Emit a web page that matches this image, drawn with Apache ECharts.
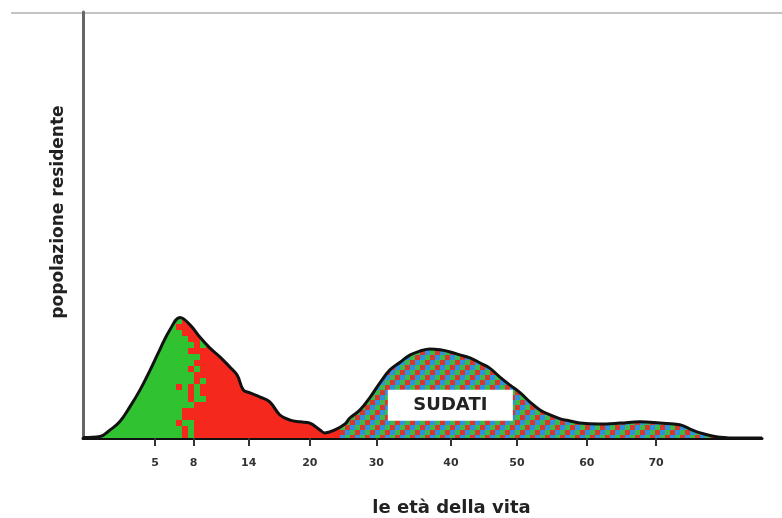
<!DOCTYPE html>
<html>
<head>
<meta charset="utf-8">
<script src="https://cdn.jsdelivr.net/npm/echarts@6/dist/echarts.min.js"></script>
<style>
  html, body { margin: 0; padding: 0; background: #ffffff; }
  #chart { width: 782px; height: 518px; }
</style>
</head>
<body>
<div id="chart"></div>
<script>
// Horizontal position along the drawn age axis (0 = left axis, 100 = right end)
const posX = [0, 2.5, 4.0, 5.4, 6.9, 8.4, 9.9, 11.3, 12.8, 14.3, 15.8, 17.2, 18.7, 20.2, 21.6, 22.7, 23.6, 24.6, 26.1, 27.5, 29.0, 30.5, 32.0, 33.4, 34.9, 35.6, 37.1, 38.6, 39.3, 40.8, 42.3, 43.7, 45.2, 46.7, 48.2, 49.6, 51.1, 52.6, 54.1, 55.5, 57.0, 58.5, 59.9, 61.4, 62.9, 64.4, 65.8, 67.3, 68.8, 70.3, 71.7, 73.2, 76.1, 79.1, 82.0, 85.0, 87.9, 89.4, 90.9, 93.8, 96.8, 100];
// Resident population (relative height, 0-100)
const population = [0.1, 0.35, 1.9, 3.8, 7.3, 11.3, 16.0, 20.7, 25.4, 28.3, 26.5, 23.7, 21.1, 19.0, 16.7, 14.8, 11.3, 10.6, 9.6, 8.5, 5.4, 4.2, 3.8, 3.5, 1.9, 1.2, 1.9, 3.3, 4.7, 6.6, 9.6, 12.9, 16.0, 17.8, 19.5, 20.4, 20.9, 20.7, 20.2, 19.5, 18.8, 17.6, 16.4, 14.3, 12.4, 10.6, 8.5, 6.6, 5.4, 4.5, 4.0, 3.5, 3.3, 3.5, 3.8, 3.5, 3.1, 2.1, 1.2, 0.2, 0, 0];

// Tick positions on the drawn axis and the ages written under them
const tickPositions = [10.6, 16.3, 24.4, 33.4, 43.2, 54.2, 63.9, 74.2, 84.4];
const tickLabels = ['5', '8', '14', '20', '30', '40', '50', '60', '70'];

// Fill bands (positions): green up to ditherStart, mixed to ditherEnd, red to redEnd, then patterned
const bandStops = [12.8, 19.4, 37.8];
const labelText = 'SUDATI';
const labelPos = [54.1, 7.7];

const chart = echarts.init(document.getElementById('chart'));
const font = "'DejaVu Sans', sans-serif";

function baseOption(areaColor) {
  return {
    animation: false,
    backgroundColor: '#ffffff',
    grid: { left: 83, right: 20, top: 12, bottom: 80, outerBoundsMode: 'none', containLabel: false },
    xAxis: {
      type: 'value', min: 0, max: 100,
      name: 'le età della vita',
      nameLocation: 'middle', nameGap: 61,
      nameTextStyle: { fontFamily: font, fontSize: 18, fontWeight: 'bold', color: '#222', padding: [0, 0, 0, 58] },
      axisLine: { show: true, lineStyle: { color: '#111', width: 3 } },
      axisTick: { show: true, customValues: tickPositions, length: 8, lineStyle: { color: '#333', width: 2 } },
      axisLabel: {
        customValues: tickPositions, margin: 20,
        fontFamily: font, fontSize: 11, fontWeight: 'bold', color: '#333',
        formatter: v => { const i = tickPositions.findIndex(p => Math.abs(p - v) < 1e-6); return i >= 0 ? tickLabels[i] : ''; }
      },
      splitLine: { show: false }
    },
    yAxis: {
      type: 'value', min: 0, max: 100,
      name: 'popolazione residente',
      nameLocation: 'middle', nameGap: 16, nameRotate: 90,
      nameTextStyle: { fontFamily: font, fontSize: 17, fontWeight: 'bold', color: '#222', padding: [0, 0, 0, 26] },
      axisLine: { show: true, lineStyle: { color: '#666', width: 3 } },
      axisTick: { show: false }, axisLabel: { show: false }, splitLine: { show: false }
    },
    graphic: [{
      type: 'line', shape: { x1: 11, y1: 13, x2: 782, y2: 13 },
      style: { stroke: '#c4c4c4', lineWidth: 2 }, z: -1
    }],
    series: [{
      type: 'line',
      data: posX.map((x, i) => [x, population[i]]),
      smooth: 0.4, symbol: 'none',
      lineStyle: { color: '#111', width: 3 },
      areaStyle: { color: areaColor, opacity: 1 },
      markPoint: {
        symbol: 'rect', symbolSize: [125, 31],
        itemStyle: { color: '#ffffff', borderWidth: 0 },
        label: { show: true, position: 'inside', formatter: labelText, fontFamily: font, fontSize: 18, fontWeight: 'bold', color: '#222' },
        data: [{ coord: labelPos }]
      }
    }]
  };
}

chart.setOption(baseOption('#33c233'));

// Build the fill texture in chart pixels from the band positions
const W = 782, H = 518;
const cv = document.createElement('canvas');
cv.width = W; cv.height = H;
const ctx = cv.getContext('2d');
const px = v => Math.round(chart.convertToPixel({ xAxisIndex: 0 }, v));
const x1 = px(bandStops[0]), x2 = px(bandStops[1]), x3 = px(bandStops[2]);
const GREEN = '#31c232', RED = '#f5281e';
ctx.fillStyle = GREEN; ctx.fillRect(0, 0, x1, H);
ctx.fillStyle = RED; ctx.fillRect(x2, 0, x3 - x2, H);
// mixed green/red dots (deterministic hash texture)
const c = 6;
function hash(i, j) {
  let h = (i * 374761393 + j * 668265263) | 0;
  h = Math.imul(h ^ (h >>> 13), 1274126177);
  h = h ^ (h >>> 16);
  return ((h >>> 0) % 1000) / 1000;
}
for (let i = 0; x1 + i * c < x2; i++) {
  const x = x1 + i * c;
  const t = (i + 0.5) * c / (x2 - x1);
  for (let j = 0; j * c < H; j++) {
    ctx.fillStyle = hash(i, j) < t ? RED : GREEN;
    ctx.fillRect(x, j * c, Math.min(c, x2 - x), c);
  }
}
const cols = ['#2f8fe0', '#3cbc46', '#d8372c'];
const s = 5;
for (let x = x3; x < W; x += s) {
  for (let y = 0; y < H; y += s) {
    ctx.fillStyle = cols[(Math.floor((x - x3) / s) + Math.floor(y / s)) % 3];
    ctx.fillRect(x, y, s, s);
  }
}
chart.setOption(baseOption({ image: cv, repeat: 'no-repeat' }));
</script>
</body>
</html>
